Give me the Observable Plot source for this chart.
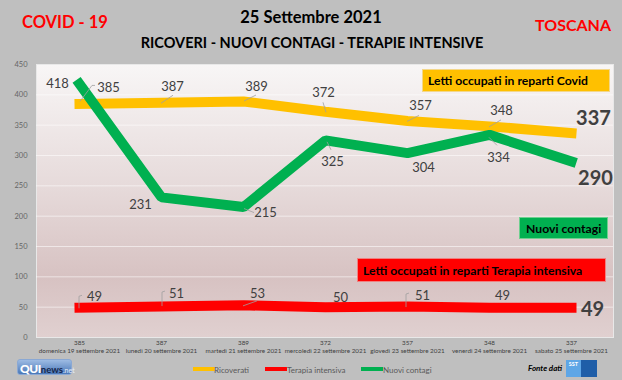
<!DOCTYPE html>
<html>
<head>
<meta charset="utf-8">
<script src="https://cdn.jsdelivr.net/npm/d3@7"></script>
<script src="https://cdn.jsdelivr.net/npm/@observablehq/plot@0.6"></script>
<style>
  html, body { margin: 0; padding: 0; background: #bfbfbf; }
  #wrap { position: relative; width: 622px; height: 380px; overflow: hidden; font-family: Lato, "Open Sans", sans-serif; background: #bfbfbf; }
  #chart { position: absolute; left: 0; top: 0; }
  .t { position: absolute; line-height: 1; white-space: nowrap; font-weight: 700; }
  .box { position: absolute; box-sizing: border-box; font-weight: 700; font-size: 12.2px; color: #000; display: flex; align-items: center; white-space: nowrap; }
  .leg { position: absolute; font-size: 8px; color: #595959; line-height: 1; white-space: nowrap; }
  .sw { position: absolute; height: 4px; width: 22px; }
</style>
</head>
<body>
<div id="wrap">
  <div id="chart"></div>
  <div class="t" style="left:22px;top:14px;font-size:16.5px;color:#ff0000;">COVID - 19</div>
  <div class="t" style="left:311px;top:9px;font-size:16.5px;color:#000;transform:translateX(-50%);">25 Settembre 2021</div>
  <div class="t" style="left:312px;top:36px;font-size:14.5px;color:#000;transform:translateX(-50%);">RICOVERI - NUOVI CONTAGI - TERAPIE INTENSIVE</div>
  <div class="t" style="left:535px;top:17px;font-size:16px;color:#ff0000;">TOSCANA</div>

  <div class="box" style="left:422px;top:69px;width:188px;height:23px;background:#ffc000;border:1px solid #f3d78a;padding-left:5px;">Letti occupati in reparti Covid</div>
  <div class="box" style="left:519px;top:217px;width:89px;height:22px;background:#00b050;border:1px solid #6fcf8f;padding-left:6px;">Nuovi contagi</div>
  <div class="box" style="left:357px;top:258px;width:249px;height:24px;background:#ff0000;border:1px solid #f08080;padding-left:5px;">Letti occupati in reparti Terapia intensiva</div>

  <div class="sw" style="left:193px;top:367px;background:#ffc000;"></div>
  <div class="leg" style="left:214px;top:366px;">Ricoverati</div>
  <div class="sw" style="left:265px;top:367px;background:#ff0000;"></div>
  <div class="leg" style="left:287px;top:366px;">Terapia intensiva</div>
  <div class="sw" style="left:361px;top:367px;background:#00b050;"></div>
  <div class="leg" style="left:383px;top:366px;">Nuovi contagi</div>

  <div style="position:absolute;left:17px;top:359px;width:55px;height:16px;border-radius:3px;background:linear-gradient(#9dbbe3,#4a78b8);border:1px solid #8aa8d4;box-sizing:border-box;line-height:14px;white-space:nowrap;padding-left:2px;">
    <span style="color:#fff;font-weight:900;font-size:12px;letter-spacing:-0.5px;">QUI</span><span style="color:#15264d;font-weight:700;font-size:9.5px;">news</span><span style="color:#e3eefb;font-size:7px;">.net</span>
  </div>
  <div class="t" style="left:528px;top:364px;font-size:8px;font-style:italic;color:#000;">Fonte dati</div>
  <div style="position:absolute;left:566px;top:360px;width:31px;height:17px;display:flex;">
    <div style="width:15px;height:17px;background:#5ea6e6;color:#fff;font-size:5.5px;font-weight:700;text-align:center;line-height:8px;">SST</div>
    <div style="width:16px;height:17px;background:#1f5ea8;"></div>
  </div>
</div>
<script>
// ---- data ----
const days = [
  "domenica 19 settembre 2021",
  "lunedì 20 settembre 2021",
  "martedì 21 settembre 2021",
  "mercoledì 22 settembre 2021",
  "giovedì 23 settembre 2021",
  "venerdì 24 settembre 2021",
  "sabato 25 settembre 2021"
];
const ricoverati = [385, 387, 389, 372, 357, 348, 337];
const terapiaIntensiva = [49, 51, 53, 50, 51, 49, 49];
const nuoviContagi = [418, 231, 215, 325, 304, 334, 290];
const yTicks = [0, 50, 100, 150, 200, 250, 300, 350, 400, 450];

// ---- label placement (pixel offsets from each point) ----
const ricOffsets = [[29,-16],[11,-16],[13,-15],[-2,-19],[13,-15],[12,-16],[22,-14]];
const contOffsets = [[-22,0],[-21,7],[22,6],[7,21],[16,15],[9,23],[24,17]];
const terOffsets = [[15,-11],[15,-13],[14,-12],[15,-9],[15,-11],[13,-12],[21,2]];
// leader lines (pixel polylines relative to each point)
const ricLeaders = [[[1,-2],[13,-18],[16,-18]], [[0,1],[12,-7]], [[1,0],[13,-6]], [[1,1],[-2,-9]], [[0,1],[12,-5]], [[0,1],[12,-6]], null];
const contLeaders = [null, null, [[1,2],[11,6]], [[2,2],[6,10]], null, [[0,3],[8,11]], null];
const terLeaders = [[[0,1],[0,-11],[3,-12]], [[1,0],[1,-14],[4,-15]], [[0,1],[14,-4]], null, [[-1,1],[-1,-12],[2,-13]], null, null];

const series = [
  {name: "Ricoverati", values: ricoverati, color: "#ffc000", offsets: ricOffsets, leaders: ricLeaders},
  {name: "Terapia intensiva", values: terapiaIntensiva, color: "#ff0000", offsets: terOffsets, leaders: terLeaders},
  {name: "Nuovi contagi", values: nuoviContagi, color: "#00b050", offsets: contOffsets, leaders: contLeaders}
];

const rows = series.flatMap(s => s.values.map((v, i) => ({day: days[i], value: v, series: s.name, i})));
const xRows = days.map((d, i) => ({day: d, ric: ricoverati[i]}));

const gradient = () => {
  const defs = d3.create("svg:defs");
  const g = defs.append("linearGradient").attr("id", "bg").attr("x1", 0).attr("y1", 0).attr("x2", 0).attr("y2", 1);
  g.append("stop").attr("offset", "0%").attr("stop-color", "#f8f6f6");
  g.append("stop").attr("offset", "45%").attr("stop-color", "#e6dada");
  g.append("stop").attr("offset", "78%").attr("stop-color", "#d7c2c2");
  g.append("stop").attr("offset", "100%").attr("stop-color", "#e0d0d0");
  return defs.node();
};

const leaderMark = (index, scales) => {
  const g = d3.create("svg:g").attr("fill", "none").attr("stroke", "#a0a0a0").attr("stroke-width", 0.8);
  if (!scales || !scales.x || !scales.y) return g.node();
  for (const s of series) {
    s.values.forEach((v, i) => {
      const pts = s.leaders[i];
      if (!pts) return;
      const px = scales.x(days[i]), py = scales.y(v);
      g.append("polyline").attr("points", pts.map(([a, b]) => `${px + a},${py + b}`).join(" "));
    });
  }
  return g.node();
};

const marks = [
  gradient,
  Plot.frame({fill: "url(#bg)", stroke: "#e8e8e8"}),
  Plot.ruleY(yTicks.filter(t => t > 0 && t < 450), {stroke: "#ffffff", strokeOpacity: 0.55, strokeWidth: 1}),
  Plot.axisY({ticks: yTicks, tickSize: 0, tickPadding: 9, fontSize: 7.5, fill: "#666666", label: null}),
  Plot.text(xRows, {x: "day", text: d => String(d.ric), frameAnchor: "bottom", dy: 7, fontSize: 6.3, fill: "#404040"}),
  Plot.text(xRows, {x: "day", text: "day", frameAnchor: "bottom", dy: 15, fontSize: 6.3, fill: "#404040"})
];

for (const s of series) {
  marks.push(Plot.line(rows.filter(r => r.series === s.name), {
    x: "day", y: "value", stroke: s.color, strokeWidth: 10,
    strokeLinecap: "square", strokeLinejoin: "miter"
  }));
}
marks.push(leaderMark);
for (const s of series) {
  const data = rows.filter(r => r.series === s.name);
  data.forEach((r, i) => {
    const last = i === data.length - 1;
    const [dx, dy] = s.offsets[i];
    marks.push(Plot.text([r], {
      x: "day", y: "value", text: d => String(d.value), dx, dy,
      fontSize: last ? 20 : 13, fontWeight: last ? 700 : 400,
      fill: "#404040"
    }));
  });
}

const chart = Plot.plot({
  width: 622,
  height: 380,
  marginTop: 64,
  marginBottom: 43,
  marginLeft: 36,
  marginRight: 9,
  style: {background: "transparent", fontFamily: "Lato, 'Open Sans', sans-serif", overflow: "visible"},
  x: {type: "point", domain: days, padding: 0.5, axis: null},
  y: {domain: [0, 450], axis: null},
  marks
});
document.getElementById("chart").appendChild(chart);
</script>
</body>
</html>
